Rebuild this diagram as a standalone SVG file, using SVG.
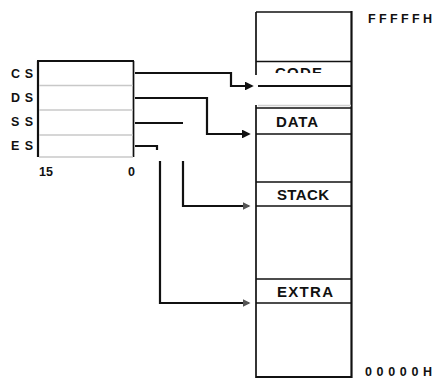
<svg xmlns="http://www.w3.org/2000/svg" width="440" height="383" viewBox="0 0 440 383">
  <style>
    .lbl { font-family: "Liberation Sans", Arial, sans-serif; font-weight: bold; fill: #111; }
    .reg { font-size: 12.5px; }
    .seg { font-size: 15px; }
    .addr { font-size: 12.5px; }
    .edge { stroke: #111; stroke-width: 2.2; fill: none; }
    .thin { stroke: #111; stroke-width: 1.7; fill: none; }
    .sep { stroke: #c8c8c8; stroke-width: 1.5; fill: none; }
    .conn { stroke: #111; stroke-width: 2.2; fill: none; }
  </style>
  <defs>
    <marker id="arr" viewBox="0 0 10 10" refX="8" refY="5" markerWidth="4" markerHeight="4" orient="auto" markerUnits="strokeWidth">
      <path d="M0,0 L10,5 L0,10 z" fill="#111"/>
    </marker>
    <marker id="arrg" viewBox="0 0 10 10" refX="8" refY="5" markerWidth="3.5" markerHeight="3.5" orient="auto" markerUnits="strokeWidth">
      <path d="M0,0 L10,5 L0,10 z" fill="#555"/>
    </marker>
    <clipPath id="codeclip"><rect x="256" y="63" width="95" height="10"/></clipPath>
  </defs>

  <rect width="440" height="383" fill="#fff"/>

  <!-- Segment register block -->
  <g id="registers">
    <line class="edge" x1="37" y1="61" x2="134" y2="61"/>
    <line class="edge" x1="38" y1="61" x2="38" y2="157"/>
    <line class="thin" x1="133.5" y1="61" x2="133.5" y2="157"/>
    <line class="sep" x1="39" y1="157" x2="133" y2="157"/>
    <text class="lbl reg" x="39" y="176" textLength="14" lengthAdjust="spacing">15</text>
    <text class="lbl reg" x="128" y="176">0</text>
  </g>
  <g id="reg-cs">
    <text class="lbl reg" x="11" y="78" textLength="22" lengthAdjust="spacing">CS</text>
  </g>
  <g id="reg-ds">
    <line class="sep" x1="39" y1="85.5" x2="133" y2="85.5"/>
    <text class="lbl reg" x="11" y="102" textLength="22" lengthAdjust="spacing">DS</text>
  </g>
  <g id="reg-ss">
    <line class="sep" x1="39" y1="110" x2="133" y2="110"/>
    <text class="lbl reg" x="11" y="126" textLength="22" lengthAdjust="spacing">SS</text>
  </g>
  <g id="reg-es">
    <line class="sep" x1="39" y1="135" x2="133" y2="135"/>
    <text class="lbl reg" x="11" y="150" textLength="22" lengthAdjust="spacing">ES</text>
  </g>

  <!-- Memory column -->
  <g id="memory">
    <line class="thin" x1="256" y1="12" x2="352" y2="12"/>
    <line class="thin" x1="256" y1="12" x2="256" y2="75"/>
    <line class="thin" x1="256" y1="105" x2="256" y2="378"/>
    <line class="edge" x1="351.5" y1="11" x2="351.5" y2="378"/>
    <line class="edge" x1="256" y1="377" x2="351" y2="377" stroke-width="2.5"/>
    <text class="lbl addr" x="368" y="23" textLength="64" lengthAdjust="spacing">FFFFFH</text>
    <text class="lbl addr" x="365" y="376" textLength="67" lengthAdjust="spacing">00000H</text>
  </g>
  <g id="mem-code">
    <line class="thin" x1="256" y1="61.5" x2="351" y2="61.5"/>
    <line class="edge" x1="258" y1="86" x2="351" y2="86"/>
    <text class="lbl seg" x="275" y="78" textLength="47" lengthAdjust="spacing" clip-path="url(#codeclip)">CODE</text>
  </g>
  <g id="mem-data">
    <line stroke="#d0d0d0" stroke-width="1.5" x1="258" y1="105.5" x2="351" y2="105.5"/>
    <line class="thin" x1="256" y1="108" x2="351" y2="108"/>
    <line class="thin" x1="256" y1="134" x2="351" y2="134"/>
    <text class="lbl seg" x="276" y="127" textLength="42" lengthAdjust="spacing">DATA</text>
  </g>
  <g id="mem-stack">
    <line class="thin" x1="256" y1="182" x2="351" y2="182"/>
    <line class="thin" x1="256" y1="206" x2="351" y2="206"/>
    <text class="lbl seg" x="277" y="200" textLength="52" lengthAdjust="spacing">STACK</text>
  </g>
  <g id="mem-extra">
    <line class="thin" x1="256" y1="279" x2="351" y2="279"/>
    <line class="thin" x1="256" y1="303" x2="351" y2="303"/>
    <text class="lbl seg" x="277" y="297" textLength="56" lengthAdjust="spacing">EXTRA</text>
  </g>

  <!-- Connectors -->
  <g id="connectors">
    <path class="conn" d="M135,73 H231 V86 H252" marker-end="url(#arr)"/>
    <path class="conn" d="M135,98 H207 V134 H249" marker-end="url(#arr)"/>
    <path class="conn" d="M135,123 H183"/>
    <path class="conn" d="M183,161 V206 H249" marker-end="url(#arrg)"/>
    <path class="conn" d="M135,146 H157 V150"/>
    <path class="conn" d="M160,161 V303 H249" marker-end="url(#arrg)"/>
  </g>
</svg>
